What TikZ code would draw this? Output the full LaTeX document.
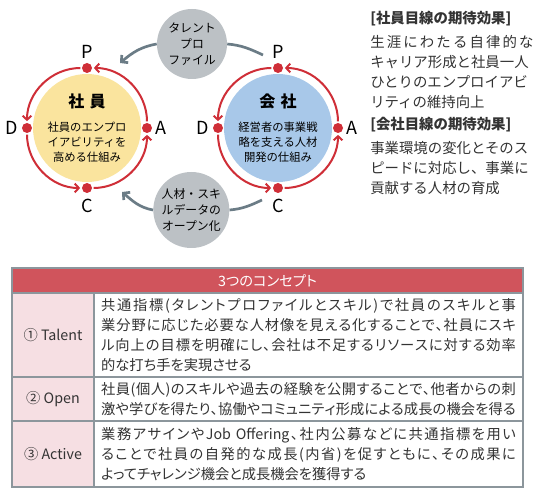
\documentclass[tikz,border=0pt]{standalone}
\usepackage{fontspec}
\setmainfont{Noto Sans CJK JP}
\newfontfamily\tabfamily[RawFeature=+palt]{Noto Sans CJK JP}
\usetikzlibrary{positioning,arrows.meta}

\definecolor{ringred}{HTML}{CF2E37}
\definecolor{empfill}{HTML}{FAE49E}
\definecolor{corpfill}{HTML}{A8C8E9}
\definecolor{bubgray}{HTML}{BCC1C5}
\definecolor{flowgray}{HTML}{6B7C86}
\definecolor{headred}{HTML}{D0545C}
\definecolor{keypink}{HTML}{F6DFE3}
\definecolor{gridgray}{HTML}{8C969C}
\definecolor{inkgray}{HTML}{333333}

\newcommand\ringtext{\fontsize{8.5}{11.25}\selectfont}
\newcommand\ringhead{\fontsize{12}{14}\selectfont\bfseries}
\newcommand\bubtext{\fontsize{8.9}{11.8}\selectfont}
\newcommand\pdcatext{\fontsize{13.5}{14}\selectfont}
\newcommand\notetext{\fontsize{10.8}{15}\selectfont}
\newcommand\tabtext{\tabfamily\fontsize{10.7}{15}\selectfont}

% spread one line of text over the cell width
\ExplSyntaxOn
\NewDocumentCommand\fullline{m}{\leavevmode\hbox~to~311pt{\tl_map_inline:nn{#1}{##1\hskip~0pt~plus~1fil~minus~0.8pt\relax}\unskip}}
\ExplSyntaxOff

\begin{document}
\begin{tikzpicture}[
    core/.style={circle, minimum size=81pt, inner sep=0pt, align=center, font=\ringtext},
    dot/.style={circle, fill=ringred, minimum size=7.5pt, inner sep=0pt},
    ring/.style={-{Straight Barb[length=3pt,width=6.5pt]}, ringred, line width=1.5pt, shorten <=1pt, shorten >=1.2pt},
    pdca/.style={font=\pdcatext, inner sep=0.5pt},
    bubble/.style={circle, fill=bubgray, inner sep=0pt, align=center, font=\bubtext},
    flow/.style={-{Straight Barb[length=3.5pt,width=7.5pt]}, flowgray, line width=2pt},
    flowline/.style={flowgray, line width=2pt},
    note/.style={align=left, font=\notetext, text=inkgray, inner sep=0pt},
    head/.style={draw=gridgray, fill=headred, text=white, font=\tabtext, minimum width=383.25pt, minimum height=18.75pt, inner sep=0pt, outer sep=0pt, line width=1pt},
    keycell/.style={draw=gridgray, fill=keypink, text=inkgray, font=\tabtext, minimum width=61.5pt, inner sep=0pt, outer sep=0pt, line width=1pt},
    textcell/.style={draw=gridgray, fill=white, text=inkgray, font=\tabtext, text width=311pt, align=left, inner xsep=5.4pt, inner ysep=0pt, outer sep=0pt, line width=1pt}
]
    \fill[white] (0,0) rectangle (405pt,-374.25pt);
    \useasboundingbox (0,0) rectangle (405pt,-374.25pt);

    % Employee cycle
    \node[core, fill=empfill] (emp) at (65.25pt,-96pt) {{\ringhead 社\hspace{4pt}員}\\[7pt]社員のエンプロ\\イアビリティを\\高める仕組み};
    \node[dot] (empP) at ([yshift=45pt]emp.center) {};
    \node[dot] (empD) at ([xshift=-45pt]emp.center) {};
    \node[dot] (empC) at ([yshift=-45pt]emp.center) {};
    \node[dot] (empA) at ([xshift=45pt]emp.center) {};
    \node[pdca, above=2.5pt of empP] (empPl) {P};
    \node[pdca, left=2pt of empD] (empDl) {D};
    \node[pdca, below=3.5pt of empC] (empCl) {C};
    \node[pdca, right=2pt of empA] (empAl) {A};
    \draw[ring] (empA) to[bend right=45] (empP);
    \draw[ring] (empP) to[bend right=45] (empD);
    \draw[ring] (empD) to[bend right=45] (empC);
    \draw[ring] (empC) to[bend right=45] (empA);

    % Company cycle
    \node[core, fill=corpfill] (corp) at (208.5pt,-96pt) {{\ringhead 会\hspace{4pt}社}\\[7pt]経営者の事業戦\\略を支える人材\\開発の仕組み};
    \node[dot] (corpP) at ([yshift=45pt]corp.center) {};
    \node[dot] (corpD) at ([xshift=-45pt]corp.center) {};
    \node[dot] (corpC) at ([yshift=-45pt]corp.center) {};
    \node[dot] (corpA) at ([xshift=45pt]corp.center) {};
    \node[pdca, above=2.5pt of corpP] (corpPl) {P};
    \node[pdca, left=2pt of corpD] (corpDl) {D};
    \node[pdca, below=3.5pt of corpC] (corpCl) {C};
    \node[pdca, right=2pt of corpA] (corpAl) {A};
    \draw[ring] (corpA) to[bend right=45] (corpP);
    \draw[ring] (corpP) to[bend right=45] (corpD);
    \draw[ring] (corpD) to[bend right=45] (corpC);
    \draw[ring] (corpC) to[bend right=45] (corpA);

    % Shared bubbles
    \node[bubble, minimum size=52.5pt] (talent) at (144pt,-33pt) {タレント\\プロ\\ファイル};
    \node[bubble, minimum size=57pt] (opendata) at (143.5pt,-157.5pt) {人材・スキ\\ルデータの\\オープン化};
    \coordinate (talentTip) at (90pt,-47.25pt);
    \coordinate (talentEnd) at (197.25pt,-41.25pt);
    \coordinate (openTip) at (91.5pt,-144pt);
    \coordinate (openEnd) at (196.5pt,-150pt);
    \draw[flow] (talent.west) to[out=190, in=40] (talentTip);
    \draw[flowline] (talent.east) to[out=-5, in=155] (talentEnd);
    \draw[flow] (opendata.west) to[out=170, in=-40] (openTip);
    \draw[flowline] (opendata.east) to[out=5, in=-155] (openEnd);

    % Expected effects
    \node[note, anchor=north west] (effects) at (277.5pt,-8pt) {{\bfseries [社員目線の期待効果]}\\[3pt]
        \makebox[120pt][s]{生 涯 に わ た る 自 律 的 な}\\
        キャリア形成と社員一人\\
        ひとりのエンプロイアビ\\
        リティの維持向上\\[1.5pt]
        {\bfseries [会社目線の期待効果]}\\[3pt]
        事業環境の変化とそのス\\
        ピードに対応し、事業に\\
        貢献する人材の育成};

    % Concept table
    \node[head, anchor=north west] (concepts) at (9pt,-201pt) {3つのコンセプト};
    \node[keycell, minimum height=63pt, below right=0pt and 0pt of concepts.south west] (talentkey) {① Talent};
    \node[textcell, minimum height=63pt, right=0pt of talentkey] (talenttxt) {\fullline{共通指標(タレントプロファイルとスキル)で社員のスキルと事}\\
        \fullline{業分野に応じた必要な人材像を見える化することで、社員にスキ}\\
        \fullline{ル向上の目標を明確にし、会社は不足するリソースに対する効率}\\
        的な打ち手を実現させる};
    \node[keycell, minimum height=33pt, below right=0pt and 0pt of talentkey.south west] (openkey) {② Open};
    \node[textcell, minimum height=33pt, right=0pt of openkey] (opentxt) {\fullline{社員(個人)のスキルや過去の経験を公開することで、他者からの刺}\\
        \fullline{激や学びを得たり、協働やコミュニティ形成による成長の機会を得る}};
    \node[keycell, minimum height=49.5pt, below right=0pt and 0pt of openkey.south west] (activekey) {③ Active};
    \node[textcell, minimum height=49.5pt, right=0pt of activekey] (activetxt) {\fullline{業務アサインや{Job Offering}、社内公募などに共通指標を用い}\\
        \fullline{ることで社員の自発的な成長(内省)を促すともに、その成果に}\\
        よってチャレンジ機会と成長機会を獲得する};

\end{tikzpicture}
\end{document}
